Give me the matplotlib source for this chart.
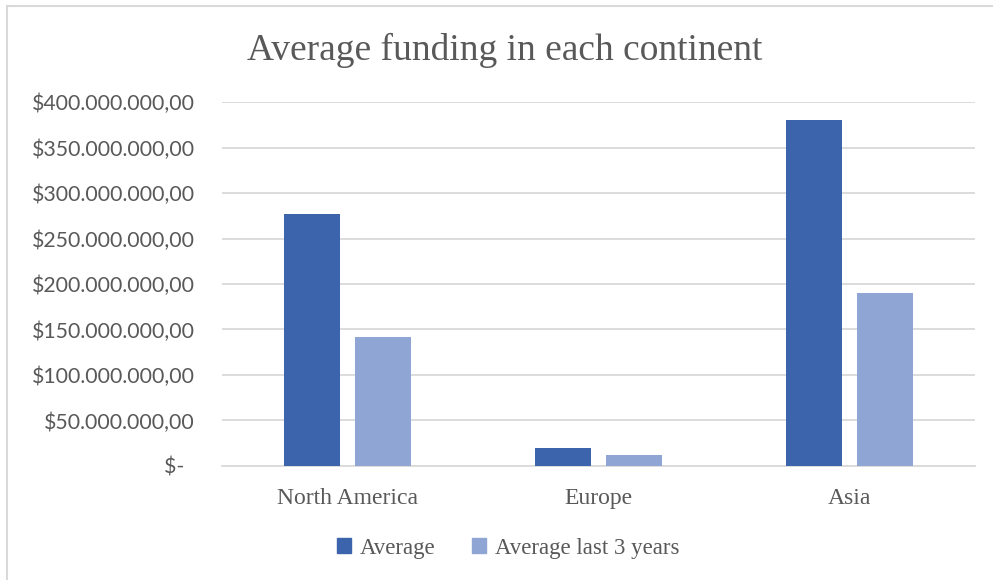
import numpy as np
import matplotlib.pyplot as plt
from matplotlib.ticker import FuncFormatter, MultipleLocator
from matplotlib.lines import Line2D
from matplotlib.patches import Patch

continents = ["North America", "Europe", "Asia"]
avg_funding = [277_000_000, 19_500_000, 380_000_000]
avg_last3 = [142_000_000, 12_000_000, 190_500_000]

DARK = "#3B64AD"
LIGHT = "#8FA5D4"
GRID = "#D9D9D9"
TEXT = "#595959"
SERIF = "Liberation Serif"
SANS = "Lato"


def money(v, pos):
    if v == 0:
        return "$-  "
    s = f"{v:,.2f}"
    # European separators: dots for thousands, comma for decimals
    s = s.replace(",", "_").replace(".", ",").replace("_", ".")
    return "$" + s


fig = plt.figure(figsize=(9.93, 5.80), dpi=100)
ax = fig.add_axes([0.2236, 0.1966, 0.7583, 0.6275])

x = np.arange(len(continents))
w = 0.223
off = 0.14
ax.bar(x - off, avg_funding, w, color=DARK, label="Average", zorder=3)
ax.bar(x + off, avg_last3, w, color=LIGHT, label="Average last 3 years", zorder=3)

ax.set_xlim(-0.5, len(continents) - 0.5)
ax.set_ylim(0, 400_000_000)
ax.yaxis.set_major_locator(MultipleLocator(50_000_000))
ax.yaxis.set_major_formatter(FuncFormatter(money))
ax.grid(axis="y", color=GRID, linewidth=1.3, zorder=0)

for side in ["left", "right", "top"]:
    ax.spines[side].set_visible(False)
ax.spines["bottom"].set_color(GRID)
ax.spines["bottom"].set_linewidth(1.3)
ax.tick_params(axis="both", length=0)
ax.tick_params(axis="y", pad=19.5, labelsize=15.3, labelcolor=TEXT)
ax.tick_params(axis="x", pad=16, labelcolor=TEXT)

ax.set_xticks(x)
ax.set_xticklabels(continents, fontfamily=SERIF, fontsize=17)
for lbl in ax.get_yticklabels():
    lbl.set_fontfamily(SANS)

fig.text(0.508, 0.913, "Average funding in each continent", ha="center", va="center",
         fontfamily=SERIF, fontsize=27, color=TEXT)

handles = [Patch(color=DARK), Patch(color=LIGHT)]
fig.legend(handles, ["Average", "Average last 3 years"], loc="center",
           bbox_to_anchor=(0.512, 0.055), ncol=2, frameon=False,
           prop={"family": SERIF, "size": 16.5}, labelcolor=TEXT,
           handlelength=0.6, handleheight=0.6, handletextpad=0.4, columnspacing=1.6)

# chart frame on the left and top edges
fig.add_artist(Line2D([0.0075, 0.0075], [0, 0.989], color=GRID, linewidth=1.5))
fig.add_artist(Line2D([0.0075, 1.0], [0.989, 0.989], color=GRID, linewidth=1.5))

fig.savefig("out.png", dpi=100, facecolor="white")
